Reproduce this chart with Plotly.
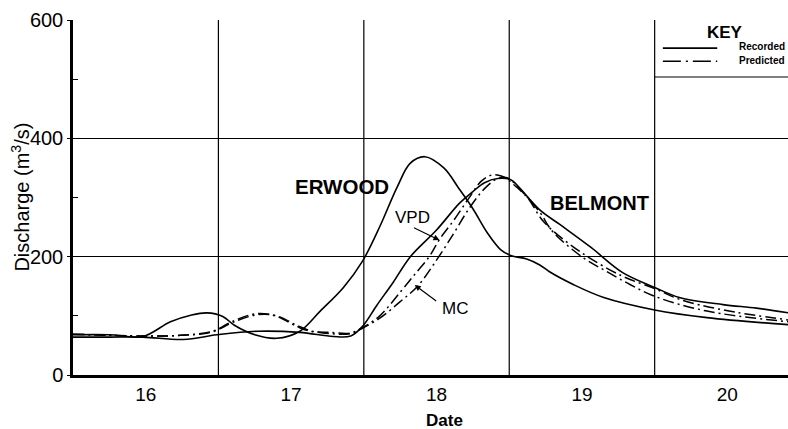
import plotly.graph_objects as go

# ---- data (day, discharge m3/s) ----
erwood_rec_x = [15.50, 15.75, 15.98, 16.17, 16.31, 16.42, 16.53, 16.61, 16.75, 16.90, 17.06, 17.20, 17.36, 17.49,
                17.61, 17.73, 17.82, 17.92, 18.05, 18.16, 18.25, 18.35, 18.44, 18.51, 18.62, 18.71, 18.78, 18.94,
                19.15, 19.50, 19.86, 20.42]
erwood_rec_y = [68, 68, 65, 90, 101, 105, 99, 84, 68, 62, 74, 108, 148, 192,
                251, 318, 358, 369, 350, 313, 281, 240, 212, 202, 196, 186, 174, 153,
                131, 110, 97, 85]

belmont_rec_x = [15.50, 15.75, 15.98, 16.26, 16.49, 16.77, 17.06, 17.29, 17.41, 17.49, 17.59, 17.70, 17.82, 18.00,
                 18.16, 18.25, 18.33, 18.42, 18.51, 18.55, 18.71, 18.85, 19.06, 19.28, 19.50, 19.67, 19.97, 20.20,
                 20.42]
belmont_rec_y = [64, 64, 64, 60, 68, 74, 72, 65, 66, 82, 118, 156, 200, 245,
                 291, 310, 325, 332, 330, 322, 279, 254, 216, 173, 148, 131, 119, 113,
                 105]

vpd_x = [15.50, 15.98, 16.24, 16.46, 16.60, 16.77, 16.90, 17.04, 17.13, 17.27, 17.41, 17.49, 17.61, 17.75,
         17.85, 17.95, 18.02, 18.12, 18.22, 18.31, 18.38, 18.45, 18.53, 18.63, 18.74, 18.99, 19.27, 19.50,
         19.67, 19.97, 20.42]
vpd_y = [69, 66, 67, 74, 91, 104, 99, 82, 74, 72, 71, 80, 100, 140,
         170, 200, 229, 262, 298, 328, 338, 336, 322, 298, 258, 208, 168, 146,
         128, 110, 93]

mc_x = [15.50, 15.98, 16.24, 16.46, 16.60, 16.77, 16.90, 17.04, 17.13, 17.27, 17.41, 17.49, 17.61, 17.75,
        17.87, 18.01, 18.12, 18.22, 18.33, 18.42, 18.49, 18.57, 18.71, 18.80, 19.01, 19.17, 19.33, 19.50,
        19.86, 20.42]
mc_y = [69, 66, 67, 73, 89, 102, 100, 84, 75, 70, 70, 79, 96, 124,
        150, 198, 240, 280, 315, 332, 333, 315, 275, 242, 198, 175, 153, 133,
        108, 90]

day_ticks = [16, 17, 18, 19, 20]
day_labels = ["16", "17", "18", "19", "20"]
day_bounds = [16.5, 17.5, 18.5, 19.5]
y_ticks = [0, 200, 400, 600]

FONT = "Liberation Sans"
DASHDOT = "11px,4px,2px,4px"

fig = go.Figure()
common = dict(mode="lines", line_shape="spline", showlegend=False, hoverinfo="skip")
fig.add_trace(go.Scatter(x=erwood_rec_x, y=erwood_rec_y, line=dict(color="black", width=1.6), **common))
fig.add_trace(go.Scatter(x=belmont_rec_x, y=belmont_rec_y, line=dict(color="black", width=1.6), **common))
fig.add_trace(go.Scatter(x=vpd_x, y=vpd_y, line=dict(color="black", width=1.5, dash=DASHDOT), **common))
fig.add_trace(go.Scatter(x=mc_x, y=mc_y, line=dict(color="black", width=1.5, dash=DASHDOT), **common))

shapes = []
for b in day_bounds:
    shapes.append(dict(type="line", xref="x", yref="paper", x0=b, x1=b, y0=0, y1=1,
                       line=dict(color="black", width=1.2), layer="below"))
# key box bottom line
shapes.append(dict(type="line", xref="x", yref="paper", x0=19.5, x1=20.5, y0=0.8394, y1=0.8394,
                   line=dict(color="black", width=1.2)))
# key samples
shapes.append(dict(type="line", xref="paper", yref="paper", x0=0.825, x1=0.901, y0=0.921, y1=0.921,
                   line=dict(color="black", width=1.8)))
shapes.append(dict(type="line", xref="paper", yref="paper", x0=0.825, x1=0.901, y0=0.884, y1=0.884,
                   line=dict(color="black", width=1.6, dash="18px,5px,2px,5px")))


def label(text, x, y, size, **kw):
    d = dict(text=text, xref="paper", yref="paper", x=x, y=y, showarrow=False,
             xanchor="center", yanchor="middle", font=dict(family=FONT, size=size, color="black"))
    d.update(kw)
    return d


ann = []
ann.append(label("<b>ERWOOD</b>", 0.376, 0.532, 20.5))
ann.append(label("<b>BELMONT</b>", 0.736, 0.484, 20))
ann.append(label("VPD", 0.4755, 0.445, 17))
ann.append(label("MC", 0.534, 0.188, 17))
ann.append(dict(text="", x=18.02, y=228, xref="x", yref="y", showarrow=True, ax=-27, ay=-13,
                arrowhead=2, arrowsize=1, arrowwidth=1.2, arrowcolor="black"))
ann.append(dict(text="", x=17.85, y=152, xref="x", yref="y", showarrow=True, ax=23, ay=17,
                arrowhead=2, arrowsize=1, arrowwidth=1.2, arrowcolor="black"))
ann.append(label("<b>KEY</b>", 0.912, 0.966, 17))
ann.append(label("<b>Recorded</b>", 0.999, 0.924, 10, xanchor="right"))
ann.append(label("<b>Predicted</b>", 0.999, 0.885, 10, xanchor="right"))
ann.append(label("<b>Date</b>", 0.519, -0.127, 17))
ann.append(label("Discharge (m<sup>3</sup>/s)", -0.074, 0.50, 20, textangle=-90))

fig.update_layout(
    width=788, height=429,
    margin=dict(l=73, r=0, t=20, b=54),
    paper_bgcolor="white", plot_bgcolor="white",
    shapes=shapes, annotations=ann,
    xaxis=dict(range=[15.5, 20.417], tickmode="array", tickvals=day_ticks, ticktext=day_labels,
               showgrid=False, zeroline=False, showline=True, linecolor="black", linewidth=3,
               ticks="", tickfont=dict(family=FONT, size=19, color="black")),
    yaxis=dict(range=[0, 600], tickmode="array", tickvals=y_ticks, showgrid=True, gridcolor="black",
               gridwidth=1.2, zeroline=False, showline=True, linecolor="black", linewidth=2.5,
               ticks="outside", ticklen=3, tickcolor="black",
               minor=dict(tickvals=[100, 300, 500], ticks="inside", ticklen=5, tickcolor="black", showgrid=False),
               tickfont=dict(family=FONT, size=20, color="black")),
)

fig.write_html("out.html", config={"displayModeBar": False},
               post_script="document.body.style.margin='0';document.body.style.overflow='hidden';")
